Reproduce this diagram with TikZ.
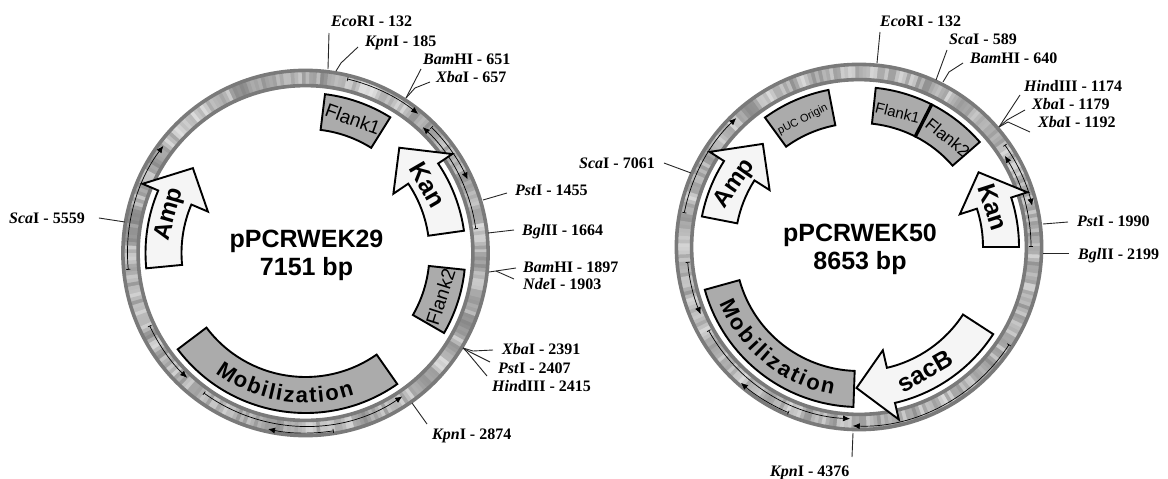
\documentclass[tikz,border=0pt]{standalone}
\usepackage{fontspec}
\setmainfont{Liberation Serif}
\setsansfont{Liberation Sans}
\usepackage{tikz}
\usetikzlibrary{arrows.meta,decorations.text}

\newcommand{\plasmidring}{%
    \gdef\lastlvl{75}%
    \foreach \a in {0,1.2,...,358.8}{%
      \pgfmathsetmacro\lvl{0.45*\lastlvl+0.55*(50+43*rnd)}%
      \global\let\lastlvl\lvl
      \fill[white!\lvl!black] (\a:167) arc[start angle=\a,end angle=\a+1.5,radius=167]
        -- ({\a+1.5}:183) arc[start angle=\a+1.5,end angle=\a,radius=183] -- cycle;
    }
    \draw[rim] (0,0) circle[radius=182.6];
    \draw[rim] (0,0) circle[radius=167.4];
}
\newcommand{\featblock}[2]{%
    \draw[featblock] (#1:124) arc[start angle=#1,end angle=#2,radius=124]
      -- (#2:160) arc[start angle=#2,end angle=#1,radius=160] -- cycle;
}
\newcommand{\featarrow}[3]{%
    \draw[featarrow] (#1:124) arc[start angle=#1,end angle=#2,radius=124]
      -- (#2:106) -- (#3:141) -- (#2:177) -- (#2:160)
      arc[start angle=#2,end angle=#1,radius=160] -- cycle;
}
\newcommand{\geneline}[3]{%
    \draw[geneline] (#2:#1) arc[start angle=#2,end angle=#3,radius=#1];
}
\newcommand{\mobtext}[2]{%
    \path[decorate,decoration={text along path,text align={fit to path},
      text={|\sffamily\bfseries\fontsize{22}{24}\selectfont|Mobilization}}]
      (#1:150) arc[start angle=#1,end angle=#2,radius=150];
}

\begin{document}
\begin{tikzpicture}[x=1pt,y=-1pt,
    rim/.style={draw=black!52,line width=3.6pt},
    featblock/.style={draw=black,line width=1.9pt,fill=black!33},
    featarrow/.style={draw=black,line width=1.9pt,fill=black!4},
    geneline/.style={draw=black,line width=0.7pt,{Bar[width=4pt]}-{Latex[length=7pt,width=6pt]}},
    leader/.style={draw=black!85,line width=0.9pt},
    sitelabel/.style={anchor=base west,inner sep=0pt,font=\bfseries\fontsize{16}{18}\selectfont},
    plasmid/.style={align=center,inner sep=0pt,font=\sffamily\bfseries\fontsize{25}{28}\selectfont},
    feattext/.style={inner sep=0pt,font=\sffamily\bfseries\fontsize{#1}{#1}\selectfont},
    flanktext/.style={inner sep=0pt,font=\sffamily\fontsize{#1}{#1}\selectfont}]
    \useasboundingbox (0,0) rectangle (1168,479);

    \begin{scope}[shift={(305.5,253)},y=1pt]
      \pgfmathsetseed{2911}
      \plasmidring
      \geneline{179}{76.5}{51}
      \geneline{172}{8}{47}
      \geneline{178}{45}{24.4}
      \geneline{178}{185.4}{143}
      \geneline{172}{205}{226.5}
      \geneline{173}{234}{304}
      \geneline{180}{279}{258}
      \featblock{83}{58}
      \featblock{-6}{-30}
      \featblock{217}{305}
      \featarrow{8}{34}{48.3}
      \featarrow{185.5}{157}{143}
      \mobtext{233}{289}
      \node[flanktext=19,rotate=-20] (flankOneA) at (70.5:142) {Flank1};
      \node[flanktext=19,rotate=72] (flankTwoA) at (-18:142) {Flank2};
      \node[feattext=25,rotate=-60] (kanA) at (29:140) {Kan};
      \node[feattext=24,rotate=74] (ampA) at (164:141) {Amp};
    \end{scope}

    \begin{scope}[shift={(859,247)},y=1pt]
      \pgfmathsetseed{5077}
      \plasmidring
      \geneline{178}{169}{133.6}
      \geneline{172}{185}{203}
      \geneline{172}{209}{267}
      \geneline{180}{247}{229}
      \geneline{179}{-33}{-92}
      \geneline{172}{0}{32}
      \geneline{178}{35}{13.4}
      \featblock{126}{101}
      \featblock{84}{63}
      \featblock{63}{41}
      \draw[line width=3.4pt] (63:124) -- (63:160);
      \featblock{195.5}{268}
      \featarrow{0}{18}{32}
      \featarrow{169}{147.5}{133}
      \featarrow{-33}{-77}{-91}
      \mobtext{202}{260}
      \node[flanktext=11,rotate=27] (pucB) at (113.8:139) {pUC Origin};
      \node[flanktext=15,rotate=-14] (flankOneB) at (74:140) {Flank1};
      \node[flanktext=17,rotate=-39] (flankTwoB) at (51:141) {Flank2};
      \node[feattext=25,rotate=-72] (kanB) at (16.6:140) {Kan};
      \node[feattext=24,rotate=55] (ampB) at (153:139) {Amp};
      \node[feattext=25,rotate=30] (sacB) at (-62:141) {sacB};
    \end{scope}

    \node[plasmid] (nameA) at (306.5,255) {pPCRWEK29\\7151 bp};
    \node[plasmid] (nameB) at (860,249) {pPCRWEK50\\8653 bp};

    \foreach \nm/\x/\y/\ital/\rest in {
      ecoA/331/27/Eco/RI - 132, kpnA/365/46/Kpn/I - 185, bamA/423/64/Bam/HI - 651,
      xbaA/436/82/Xba/I - 657, pstA/515/195/Pst/I - 1455, bglA/522/235/Bgl/II - 1664,
      bamAA/523/272/Bam/HI - 1897, ndeA/523/289/Nde/I - 1903, xbaAA/502/354/Xba/I - 2391,
      pstAA/498/373/Pst/I - 2407, hindA/492/391/Hin/dIII - 2415, kpnAA/432/439/Kpn/I - 2874,
      scaA/9/223/Sca/I - 5559,
      ecoB/880/27/Eco/RI - 132, scaB/949/45/Sca/I - 589, bamB/970/63/Bam/HI - 640,
      hindB/1024/91/Hin/dIII - 1174, xbaB/1032/109/Xba/I - 1179, xbaBB/1038/127/Xba/I - 1192,
      pstB/1077/226/Pst/I - 1990, bglB/1078/259/Bgl/II - 2199, kpnB/770/476/Kpn/I - 4376,
      scaBB/579/168/Sca/I - 7061}
      \node[sitelabel] (\nm) at (\x,\y) {\textit{\ital}\rest};

    \foreach \nm/\x/\y in {
      cutEcoA/328/69, bendKpnA/341/63, cutKpnA/336/71, cutBamA/406/98, bendXbaA/415/88,
      cutPstA/483/200, cutBglA/488/233, cutBamAA/489/272, forkBamA/496/271, cutXbaAA/463/348,
      bendXbaAA/473/351, bendPstAA/470/352, bendHindA/467/352, cutKpnAA/412/403, cutScaA/125/222,
      cutEcoB/877/63, cutScaB/936/80, bendBamB/949/72, cutBamB/943/82, cutHindB/999/127,
      bendXbaB/1007/120, bendXbaBB/1008/122, cutPstB/1043/224, cutBglB/1043/253,
      cutKpnB/853/433, cutScaBB/691/173}
      \coordinate (\nm) at (\x,\y);

    \draw[leader] ([shift={(-2pt,-6pt)}]ecoA.base west) -- (cutEcoA);
    \draw[leader] ([shift={(-7pt,-1pt)}]kpnA.base west) -- (bendKpnA) -- (cutKpnA);
    \draw[leader] ([shift={(-2pt,-5pt)}]bamA.base west) -- (cutBamA);
    \draw[leader] ([shift={(-6pt,0pt)}]xbaA.base west) -- (bendXbaA) -- (cutBamA);
    \draw[leader] ([shift={(-8pt,2pt)}]pstA.base west) -- (cutPstA);
    \draw[leader] ([shift={(-8pt,5pt)}]bglA.base west) -- (cutBglA);
    \draw[leader] ([shift={(-7pt,4pt)}]bamAA.base west) -- (forkBamA) -- (cutBamAA);
    \draw[leader] ([shift={(-9pt,10pt)}]ndeA.base west) -- (forkBamA);
    \draw[leader] ([shift={(-9pt,4pt)}]xbaAA.base west) -- (bendXbaAA) -- (cutXbaAA);
    \draw[leader] ([shift={(-8pt,11pt)}]pstAA.base west) -- (bendPstAA) -- (cutXbaAA);
    \draw[leader] ([shift={(-5pt,15pt)}]hindA.base west) -- (bendHindA) -- (cutXbaAA);
    \draw[leader] ([shift={(-5pt,15pt)}]kpnAA.base west) -- (cutKpnAA);
    \draw[leader] ([shift={(14pt,5pt)}]scaA.base east) -- (cutScaA);
    \draw[leader] ([shift={(0pt,-5pt)}]ecoB.base west) -- (cutEcoB);
    \draw[leader] ([shift={(-2pt,-5pt)}]scaB.base west) -- (cutScaB);
    \draw[leader] ([shift={(-7pt,0pt)}]bamB.base west) -- (bendBamB) -- (cutBamB);
    \draw[leader] ([shift={(-4pt,-4pt)}]hindB.base west) -- (cutHindB);
    \draw[leader] ([shift={(-7pt,-1pt)}]xbaB.base west) -- (bendXbaB) -- (cutHindB);
    \draw[leader] ([shift={(-8pt,-5pt)}]xbaBB.base west) -- (bendXbaBB) -- (cutHindB);
    \draw[leader] ([shift={(-9pt,4pt)}]pstB.base west) -- (cutPstB);
    \draw[leader] ([shift={(-9pt,6pt)}]bglB.base west) -- (cutBglB);
    \draw[leader] ([shift={(82pt,19pt)}]kpnB.base west) -- (cutKpnB);
    \draw[leader] ([shift={(9pt,5pt)}]scaBB.base east) -- (cutScaBB);
\end{tikzpicture}
\end{document}
